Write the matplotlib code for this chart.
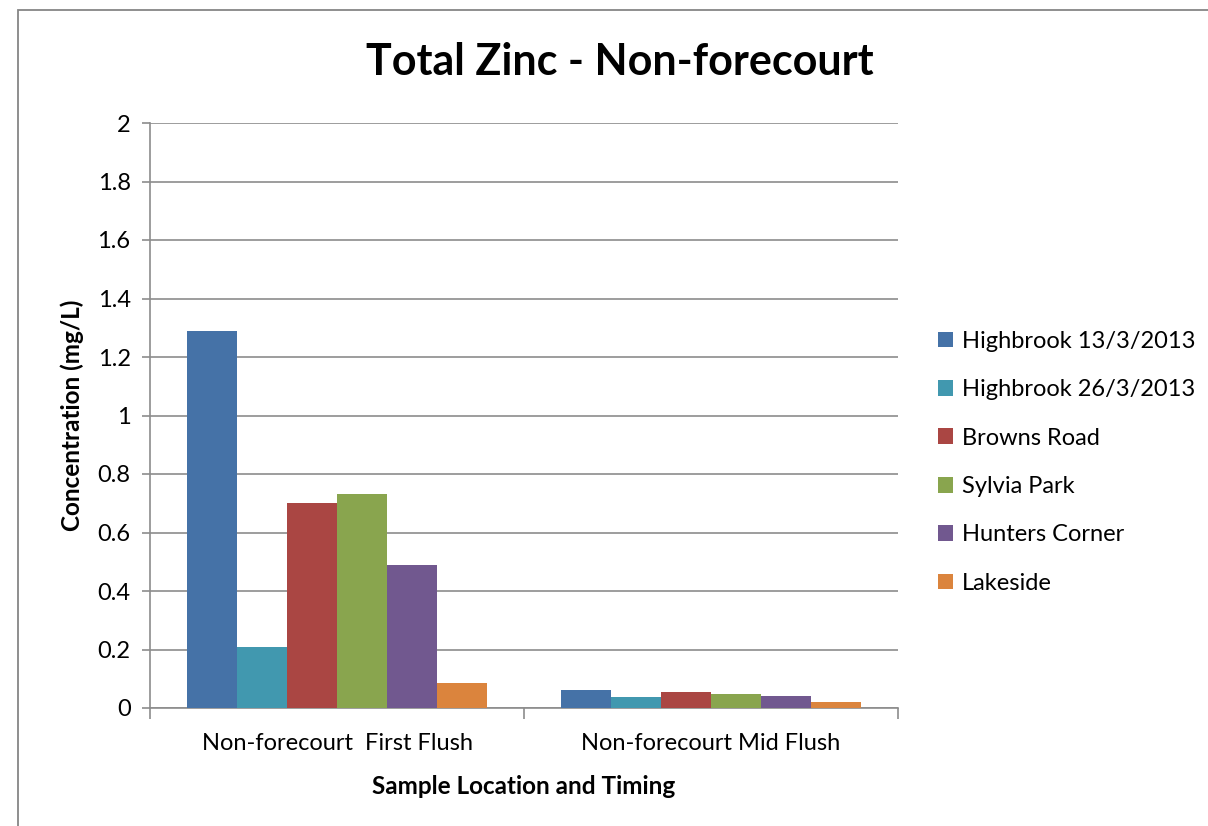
import numpy as np
import matplotlib.pyplot as plt
from matplotlib.patches import Rectangle

plt.rcParams['font.family'] = ['Lato', 'DejaVu Sans']

categories = ["Non-forecourt  First Flush", "Non-forecourt Mid Flush"]
series_names = ["Highbrook 13/3/2013", "Highbrook 26/3/2013", "Browns Road",
                "Sylvia Park", "Hunters Corner", "Lakeside"]
first_flush = [1.29, 0.21, 0.70, 0.73, 0.49, 0.087]
mid_flush = [0.06, 0.037, 0.055, 0.048, 0.04, 0.02]
colors = ["#4572A7", "#4198AF", "#AA4643", "#89A54E", "#71588F", "#DB843D"]
yticks = [0, 0.2, 0.4, 0.6, 0.8, 1, 1.2, 1.4, 1.6, 1.8, 2]

W, H = 1208, 826
fig = plt.figure(figsize=(W/100, H/100), dpi=100)
ax = fig.add_axes([150/W, (H-708)/H, (898-150)/W, (708-123)/H])

# outer chart border (runs off the right and bottom edge)
fig.patches.append(Rectangle((18/W, -0.05), 1.2, (H-10)/H + 0.05, transform=fig.transFigure,
                             fill=False, edgecolor="#868686", linewidth=1.3))

n = len(series_names)
bw = 1.0 / (n + 1.5)
x = np.arange(len(categories))
for i in range(n):
    vals = [first_flush[i], mid_flush[i]]
    ax.bar(x - 0.5 + 0.75*bw + i*bw + bw/2, vals, width=bw, color=colors[i],
           label=series_names[i], zorder=3)

ax.set_xlim(-0.5, 1.5)
ax.set_ylim(0, 2)
ax.set_yticks(yticks)
ax.set_yticklabels(["0", "0.2", "0.4", "0.6", "0.8", "1", "1.2", "1.4", "1.6", "1.8", "2"])
ax.yaxis.grid(True, color="#8c8c8c", linewidth=1.2, zorder=0)
ax.set_axisbelow(True)

ax.set_xticks([-0.5, 0.5, 1.5])
ax.set_xticklabels([])
ax.set_xticks(x, minor=True)
ax.set_xticklabels(categories, minor=True, fontsize=17)
ax.tick_params(axis="x", which="minor", length=0, pad=18)
ax.tick_params(axis="x", which="major", length=8, color="#8c8c8c", width=1.2)
ax.tick_params(axis="y", length=6, color="#8c8c8c", width=1.2, labelsize=17, pad=8)

for s in ["top", "right"]:
    ax.spines[s].set_visible(False)
for s in ["left", "bottom"]:
    ax.spines[s].set_color("#8c8c8c")
    ax.spines[s].set_linewidth(1.2)

ax.set_xlabel("Sample Location and Timing", fontsize=17.5, fontweight="bold", labelpad=15)
ax.set_ylabel("Concentration (mg/L)", fontsize=17.5, fontweight="bold", labelpad=10)
fig.text(620/W, 1 - 62/H, "Total Zinc - Non-forecourt", fontsize=31, fontweight="bold",
         ha="center", va="center")

leg = ax.legend(loc="center left", bbox_to_anchor=(1.025, 0.42), frameon=False, fontsize=17,
                handlelength=0.65, handleheight=0.65, handletextpad=0.35, labelspacing=1.16)

fig.savefig("out.png", dpi=100)
